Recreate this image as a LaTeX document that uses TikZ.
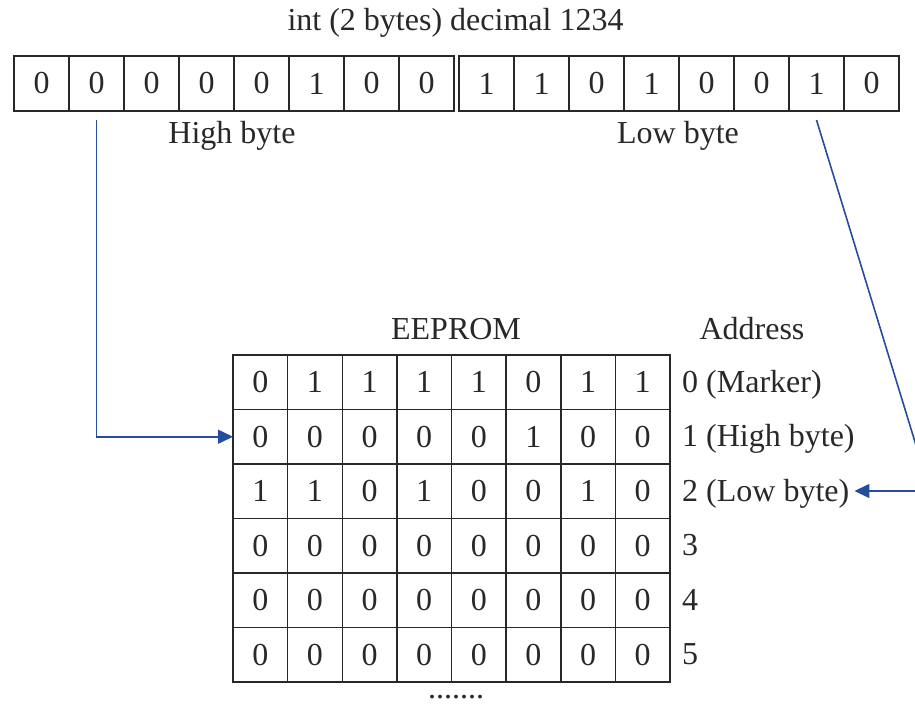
\documentclass[tikz,border=0pt]{standalone}
\usepackage{fontspec}
\setmainfont{Liberation Serif}
\usetikzlibrary{arrows.meta}
\definecolor{ink}{RGB}{40,40,40}
\definecolor{arrowblue}{RGB}{38,76,160}
\begin{document}
\begin{tikzpicture}[x=1pt,y=-1pt,
  cell/.style={draw=ink, line width=1.5pt, minimum width=55pt, minimum height=55pt, inner sep=0pt, outer sep=0pt, text=ink, font=\fontsize{32}{36}\selectfont},
  ecell/.style={cell, minimum width=54.625pt, minimum height=54.5pt},
  lbl/.style={text=ink, font=\fontsize{32}{36}\selectfont, inner sep=0pt},
  conn/.style={draw=arrowblue, line width=1.6pt, -{Triangle[length=15pt,width=14pt]}}
]
\useasboundingbox (0,0) rectangle (915,706);
\clip (0,0) rectangle (915,706);

\node[lbl, anchor=base] (title) at (455.5,31) {int (2 bytes) decimal 1234};

\foreach \b [count=\i from 0] in {0,0,0,0,0,1,0,0}
  \node[cell] (h\i) at ({14+55*\i+27.5},83.5) {\b};
\foreach \b [count=\i from 0] in {1,1,0,1,0,0,1,0}
  \node[cell] (l\i) at ({459+55*\i+27.5},83.5) {\b};

\node[lbl, anchor=base] (hb) at (232,143) {High byte};
\node[lbl, anchor=base] (lb) at (678,143) {Low byte};

\node[lbl, anchor=base] (ee) at (456,339) {EEPROM};
\node[lbl, anchor=base] (addr) at (752,339) {Address};

\foreach \row [count=\r from 0] in {{0,1,1,1,1,0,1,1},{0,0,0,0,0,1,0,0},{1,1,0,1,0,0,1,0},{0,0,0,0,0,0,0,0},{0,0,0,0,0,0,0,0},{0,0,0,0,0,0,0,0}}{
  \foreach \b [count=\c from 0] in \row {
    \node[ecell] (e\r-\c) at ({233+54.625*(\c+0.5)},{355+54.5*(\r+0.5)}) {\b};
  }
}

\node[lbl, anchor=base west] (a0) at (682,{355+54.5*0.5+10}) {0 (Marker)};
\node[lbl, anchor=base west] (a1) at (682,{355+54.5*1.5+10}) {1 (High byte)};
\node[lbl, anchor=base west] (a2) at (682,{355+54.5*2.5+10}) {2 (Low byte)};
\node[lbl, anchor=base west] (a3) at (682,{355+54.5*3.5+10}) {3};
\node[lbl, anchor=base west] (a4) at (682,{355+54.5*4.5+10}) {4};
\node[lbl, anchor=base west] (a5) at (682,{355+54.5*5.5+10}) {5};

\node[lbl, anchor=base] (dots) at (456,698) {.......};

\coordinate (s1) at ([yshift=-9pt]h1.south);
\draw[conn] (s1) |- (e1-0.west);

\coordinate (s2) at ([yshift=-9pt]l6.south);
\coordinate (c2) at (930,491);
\draw[conn, shorten >=5pt] (s2) -- (c2) -- (c2 -| a2.east);
\end{tikzpicture}
\end{document}
